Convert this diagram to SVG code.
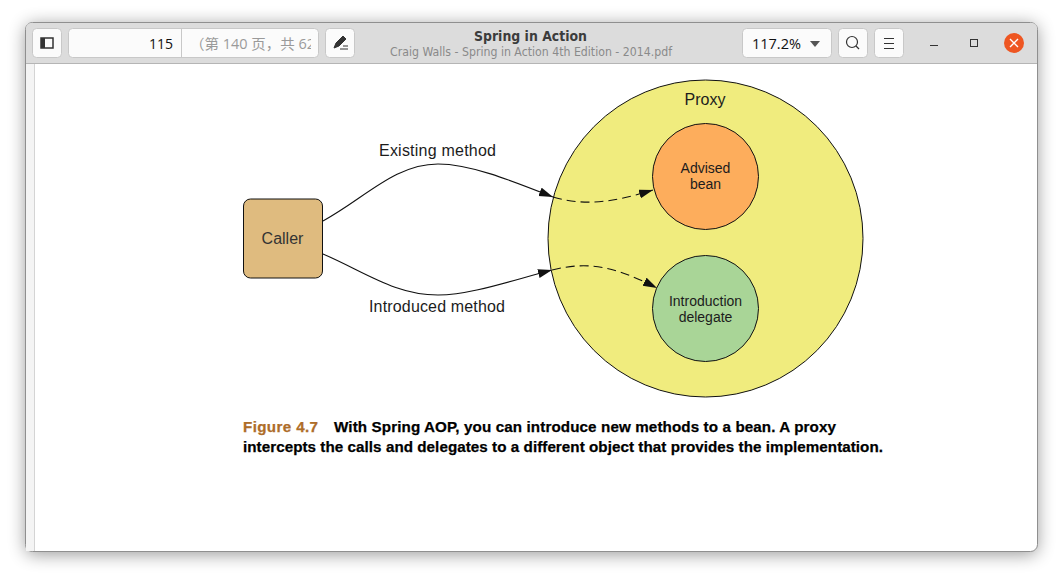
<svg xmlns="http://www.w3.org/2000/svg" width="1063" height="580" viewBox="0 0 1063 580">
<style>
.sans{font-family:"Open Sans","DejaVu Sans","Noto Sans CJK SC",sans-serif}
.ub{font-family:"DejaVu Sans","Noto Sans CJK SC",sans-serif}
.lib{font-family:"Liberation Sans",Arial,sans-serif;fill:#1c1c1c}
.cap{font-family:"Liberation Sans",Arial,sans-serif;font-weight:700;font-size:15.2px;stroke-width:.25px}
.btn{fill:#fbfbfb;stroke:#c8c8c8;stroke-width:1}
.node{stroke:#111;stroke-width:1}
.conn{fill:none;stroke:#111;stroke-width:1.1}
.dash{stroke-dasharray:9 5}
</style>
<defs>
<marker id="arrow" markerUnits="userSpaceOnUse" markerWidth="16" markerHeight="10" refX="14" refY="4.500" orient="auto"><path d="M0 0L14 4.500L0 9Z" fill="#111"/></marker>
<filter id="shadow" x="-6%" y="-10%" width="112%" height="122%"><feGaussianBlur stdDeviation="9"/></filter>
<clipPath id="pagebox"><rect x="182" y="29" width="129" height="28"/></clipPath>
</defs>
<rect width="1063" height="580" fill="#fff"/>
<g id="window">
<rect x="26" y="25" width="1011" height="529" rx="6" fill="#000" opacity=".42" filter="url(#shadow)"/>
<rect x="25.500" y="22.500" width="1012" height="529" rx="7" fill="#fff" stroke="#8f8f8f"/>
<path d="M26 63.500V29Q26 23 32 23H1031Q1037 23 1037 29V63.500Z" fill="#dcdcdc"/>
<path d="M26 63.500H1037" stroke="#b5b5b5"/>
<rect x="26" y="64" width="8" height="487" fill="#f4f4f4"/>
<path d="M34.500 64V551" stroke="#d4d4d4"/>
</g>
<g id="toolbar">
<rect class="btn" x="32.500" y="28.500" width="29" height="29" rx="4"/>
<rect x="41" y="38" width="12" height="10" fill="none" stroke="#333" stroke-width="1.500"/><rect x="41" y="38" width="4" height="10" fill="#333"/>
<rect class="btn" x="68.500" y="28.500" width="250" height="29" rx="4"/>
<path d="M181.500 29V57" stroke="#c8c8c8"/>
<text class="sans" x="173" y="49" font-size="14" text-anchor="end" fill="#111">115</text>
<text class="sans" clip-path="url(#pagebox)" x="190" y="49" font-size="14" fill="#9a9a9a" textLength="125" lengthAdjust="spacingAndGlyphs">（第 140 页，共 62</text>
<rect class="btn" x="325.500" y="28.500" width="29" height="29" rx="4"/>
<path d="M334 48L336 43L343 36L346 39L339 46ZM340 49H348M343 46H348" fill="#333" stroke="#333"/>
<text class="ub" x="530.500" y="41" font-size="13.500" font-weight="700" text-anchor="middle" fill="#3c3c3c" textLength="113" lengthAdjust="spacingAndGlyphs">Spring in Action</text>
<text class="ub" x="531" y="56" font-size="12" text-anchor="middle" fill="#8a8a8a" textLength="282" lengthAdjust="spacingAndGlyphs">Craig Walls - Spring in Action 4th Edition - 2014.pdf</text>
<rect class="btn" x="742.500" y="28.500" width="89" height="29" rx="4"/>
<text class="sans" x="752" y="49" font-size="14.500" fill="#111">117.2%</text>
<path d="M810 41H820L815 47Z" fill="#555"/>
<rect class="btn" x="838.500" y="28.500" width="29" height="29" rx="4"/>
<circle cx="852" cy="42" r="5.500" fill="none" stroke="#333" stroke-width="1.200"/><path d="M856 46L859 49" stroke="#333" stroke-width="1.200"/>
<rect class="btn" x="874.500" y="28.500" width="29" height="29" rx="4"/>
<path d="M884 38.500H894M884 43.500H894M884 48.500H894" stroke="#333"/>
<path d="M930 45.500H938" stroke="#333"/>
<rect x="970.500" y="39.500" width="7" height="7" fill="none" stroke="#333"/>
<circle cx="1014" cy="43" r="10" fill="#ee5622"/>
<path d="M1010 39L1018 47M1018 39L1010 47" stroke="#fff" stroke-width="1.400"/>
</g>
<g id="connectors">
<path class="conn" marker-end="url(#arrow)" d="M323 221C365 198 395 164 438 164C470 164 510 180 553 197"/>
<path class="conn" marker-end="url(#arrow)" d="M323 254C365 272 395 295 438 295C470 295 510 281 552 270"/>
</g>
<g id="caller"><rect class="node" x="243.500" y="199" width="79" height="79" rx="7" fill="#dfbb7f"/><text class="lib" x="282.500" y="244" font-size="16" text-anchor="middle" style="fill:#333">Caller</text></g>
<g id="proxy"><ellipse class="node" cx="705.500" cy="238.500" rx="157.500" ry="158.500" fill="#f0ec7e"/><text class="lib" x="705" y="105" font-size="16" text-anchor="middle">Proxy</text></g>
<g id="advised-bean"><circle class="node" cx="705.500" cy="176.500" r="53" fill="#fdad5c"/><text class="lib" x="705.500" y="173" font-size="14" text-anchor="middle">Advised</text><text class="lib" x="705.500" y="189" font-size="14" text-anchor="middle">bean</text></g>
<g id="introduction-delegate"><circle class="node" cx="705.500" cy="308.500" r="53" fill="#a9d597"/><text class="lib" x="705.500" y="306" font-size="14" text-anchor="middle">Introduction</text><text class="lib" x="705.500" y="322" font-size="14" text-anchor="middle">delegate</text></g>
<g id="connectors-inner">
<path class="conn dash" marker-end="url(#arrow)" d="M553 197C585 206 610 203 653 190"/>
<path class="conn dash" marker-end="url(#arrow)" d="M552 270C585 262 610 264 657 288"/>
</g>
<g id="labels">
<text class="lib" x="437.500" y="156" font-size="16" text-anchor="middle" textLength="117" lengthAdjust="spacing">Existing method</text>
<text class="lib" x="437" y="312" font-size="16" text-anchor="middle" textLength="136" lengthAdjust="spacing">Introduced method</text>
</g>
<g id="caption">
<text class="cap" x="243" y="432" fill="#ae6d29" stroke="#ae6d29" textLength="75" lengthAdjust="spacing">Figure 4.7</text>
<text class="cap" x="334" y="432" fill="#000" stroke="#000" textLength="502" lengthAdjust="spacing">With Spring AOP, you can introduce new methods to a bean. A proxy</text>
<text class="cap" x="243" y="452" fill="#000" stroke="#000" textLength="640" lengthAdjust="spacing">intercepts the calls and delegates to a different object that provides the implementation.</text>
</g>
</svg>
